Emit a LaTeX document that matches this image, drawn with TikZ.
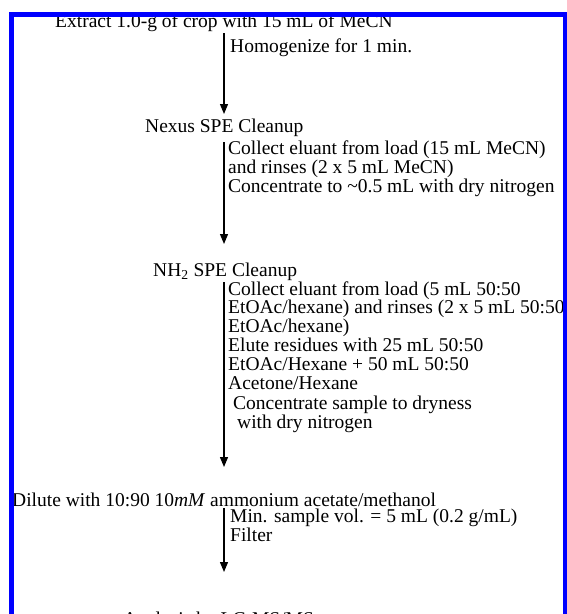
\documentclass[tikz,border=0pt]{standalone}
\usepackage{fontspec}
\setmainfont{Liberation Serif}
\usetikzlibrary{arrows.meta}

\tikzset{
	etape/.style={anchor=base west, inner sep=0pt, align=left, font=\fontsize{19.5}{18.8}\selectfont},
	fleche/.style={-{Triangle[length=10pt,width=8pt]}, line width=1.2pt},
	cadre/.style={draw=blue, line width=5pt}
}

\begin{document}
\begin{tikzpicture}[x=1pt, y=-1pt]
		\useasboundingbox (0, 0) rectangle (567, 614);

		% extraction
		\node[etape] (extract) at (55, 27) {Extract 1.0-g of crop with 15 mL of MeCN};
		\node[etape] (homog) at (230, 52) {Homogenize for 1 min.};

		% nettoyage nexus (ancre sur la derniere ligne)
		\node[etape] (nexus) at (145, 132) {Nexus SPE Cleanup};
		\node[etape] (nexusnote) at (228, 192) {Collect eluant from load (15 mL MeCN)\\and rinses (2 x 5 mL MeCN)\\Concentrate to \textasciitilde0.5 mL with dry nitrogen};

		% nettoyage NH2
		\node[etape] (nh) at (153, 276) {NH\textsubscript{2} SPE Cleanup};
		\node[etape] (nhnote) at (228, 389) {Collect eluant from load (5 mL 50:50\\EtOAc/hexane) and rinses (2 x 5 mL 50:50\\EtOAc/hexane)\\Elute residues with 25 mL 50:50\\EtOAc/Hexane + 50 mL 50:50\\Acetone/Hexane};
		\node[etape] (drynote) at (233, 428) {Concentrate sample to dryness\\\hspace{4pt}with dry nitrogen};

		% dilution
		\node[etape] (dilute) at (12, 506) {Dilute with 10:90 10\textit{mM} ammonium acetate/methanol};
		\node[etape, font=\fontsize{19.5}{17}\selectfont] (filter) at (230, 541) {Min. sample vol. = 5 mL (0.2 g/mL)\\Filter};

		% analyse
		\node[etape] (analysis) at (123, 625) {Analysis by LC-MS/MS};

		% fleches
		\coordinate (f1) at (224, 33);
		\coordinate (g1) at (224, 114);
		\coordinate (f2) at (224, 142);
		\coordinate (g2) at (224, 244);
		\coordinate (f3) at (224, 282);
		\coordinate (g3) at (224, 467);
		\coordinate (f4) at (224, 508);
		\coordinate (g4) at (224, 572);
		\draw[fleche] (f1) -- (g1);
		\draw[fleche] (f2) -- (g2);
		\draw[fleche] (f3) -- (g3);
		\draw[fleche] (f4) -- (g4);

		% cadre bleu
		\draw[cadre] (11, 640) -- (11, 14.5) -- (565.5, 14.5) -- (565.5, 640);

		\end{tikzpicture}
\end{document}
